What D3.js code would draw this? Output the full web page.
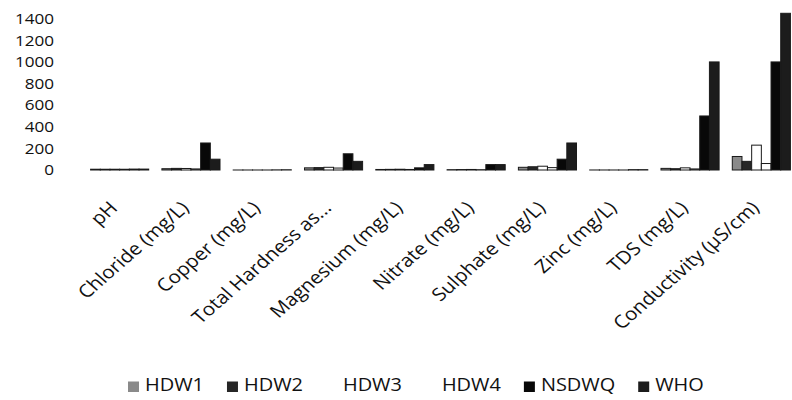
<!DOCTYPE html>
<html>
<head>
<meta charset="utf-8">
<script src="https://cdn.jsdelivr.net/npm/d3@7"></script>
<style>
  html, body { margin: 0; padding: 0; background: #fff; }
  svg { display: block; }
  text { font-family: "Open Sans", "Noto Sans", sans-serif; fill: #111; }
</style>
</head>
<body>
<svg id="chart" width="792" height="400"></svg>
<script>
const categories = ["pH", "Chloride (mg/L)", "Copper (mg/L)", "Total Hardness as...",
  "Magnesium (mg/L)", "Nitrate (mg/L)", "Sulphate (mg/L)", "Zinc (mg/L)",
  "TDS (mg/L)", "Conductivity (µS/cm)"];
const seriesNames = ["HDW1", "HDW2", "HDW3", "HDW4", "NSDWQ", "WHO"];
const HDW1  = [7.2, 12, 0.1, 20, 5, 3, 25, 0.3, 15, 125];
const HDW2  = [7.0, 15, 0.1, 22, 6, 4, 30, 0.2, 12, 80];
const HDW3  = [7.1, 14, 0.1, 25, 7, 5, 35, 0.2, 20, 230];
const HDW4  = [6.9, 10, 0.1, 18, 5, 3, 22, 0.1, 10, 60];
const NSDWQ = [8.5, 250, 1, 150, 20, 50, 100, 3, 500, 1000];
const WHO   = [8.5, 100, 2, 80, 50, 50, 250, 3, 1000, 1450];
const yTicks = [0, 200, 400, 600, 800, 1000, 1200, 1400];

const seriesValues = [HDW1, HDW2, HDW3, HDW4, NSDWQ, WHO];
const colors = ["#8a8a8a", "#262626", "#ffffff", "#ffffff", "#080808", "#1c1c1c"];
const SX = 1.14; // horizontal stretch of the scanned original

const svg = d3.select("#chart");

const x0 = d3.scaleBand().domain(categories).range([84, 797])
  .paddingInner(0.185).paddingOuter(0.0925);
const x1 = d3.scaleBand().domain(seriesNames).range([0, x0.bandwidth()]);
const y = d3.scaleLinear().domain([0, 1400]).range([170, 18.7]);

// bars
const groups = svg.append("g").selectAll("g").data(categories).join("g")
  .attr("transform", c => `translate(${x0(c)},0)`);
groups.selectAll("rect")
  .data((c, i) => seriesNames.map((s, j) => ({ s, j, v: seriesValues[j][i] })))
  .join("rect")
  .attr("x", d => x1(d.s))
  .attr("width", x1.bandwidth())
  .attr("y", d => y(d.v))
  .attr("height", d => y(0) - y(d.v))
  .attr("fill", d => colors[d.j])
  .attr("stroke", "#1a1a1a")
  .attr("stroke-width", 1);

// y tick labels
const yg = svg.append("g");
yTicks.forEach(t => {
  yg.append("g")
    .attr("transform", `translate(54,${y(t)}) scale(${SX},1)`)
    .append("text")
    .attr("text-anchor", "end")
    .attr("dy", "0.35em")
    .style("font-size", "15px")
    .text(t);
});

// category labels
const xg = svg.append("g");
categories.forEach(c => {
  const cx = x0(c) + x0.bandwidth() / 2;
  xg.append("g")
    .attr("transform", `translate(${cx - 1},209) scale(${SX},1) rotate(-45)`)
    .append("text")
    .attr("text-anchor", "end")
    .style("font-size", "18px")
    .text(c);
});

// legend
const lg = svg.append("g");
let lx = 128;
seriesNames.forEach((s, j) => {
  lg.append("rect")
    .attr("x", lx).attr("y", 381.5)
    .attr("width", 11).attr("height", 10.5)
    .attr("fill", colors[j]);
  const t = lg.append("g")
    .attr("transform", `translate(${lx + 17},391) scale(${SX},1)`)
    .append("text")
    .style("font-size", "17.5px")
    .text(s);
  const w = t.node().getComputedTextLength() * SX;
  lx = lx + 17 + w + 23;
});
</script>
</body>
</html>
